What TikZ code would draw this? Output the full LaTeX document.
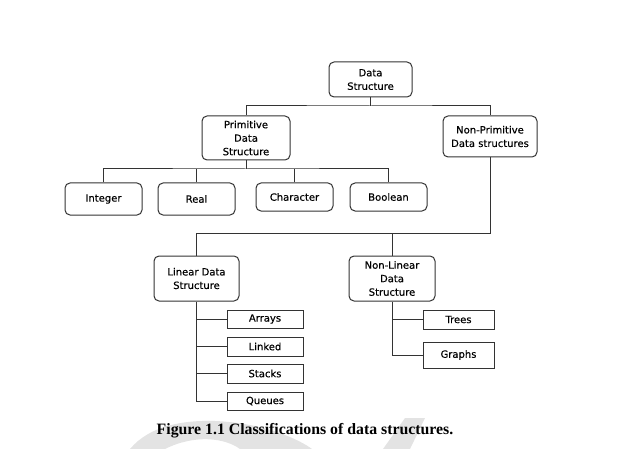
\documentclass[tikz,border=0pt]{standalone}
\usepackage{fontspec}
\setmainfont{DejaVu Sans}
\newfontface\boxfont{DejaVu Sans}[FakeBold=0.35]
\newfontfamily\capfont{Liberation Serif}
\usetikzlibrary{calc}
\definecolor{lineclr}{HTML}{333333}
\definecolor{wmark}{HTML}{E3E3E3}
\tikzset{
  box/.style={draw=lineclr, line width=1pt, fill=white, inner sep=0pt, align=center,
    font=\boxfont\fontsize{10}{13.5}\selectfont, text=black},
  rbox/.style={box, rounded corners=5pt},
  sbox/.style={box},
  conn/.style={draw=lineclr, line width=1pt},
}
\begin{document}
\begin{tikzpicture}[x=1pt,y=-1pt]
\useasboundingbox (0,0) rectangle (642,449);
% watermark
\fill[wmark] (130,449) .. controls (150,425) and (185,420) .. (215,421)
  .. controls (265,423) and (300,440) .. (312,449) -- (240,449)
  .. controls (225,438) and (195,434) .. (165,449) -- cycle;
\fill[wmark] (405,418) -- (425,418) -- (410,449) -- (383,449) -- cycle;
% nodes
\node[rbox, minimum width=83pt, minimum height=35pt] (ds) at (370.5,79.5) {Data\\Structure};
\node[rbox, minimum width=88pt, minimum height=44pt] (prim) at (246,138) {Primitive\\Data\\Structure};
\node[rbox, minimum width=94pt, minimum height=41pt] (nonprim) at (490,136.5) {Non-Primitive\\Data structures};
\node[rbox, minimum width=77pt, minimum height=32pt] (integer) at (103.5,199) {Integer};
\node[rbox, minimum width=77pt, minimum height=32pt] (real) at (196.5,199) {Real};
\node[rbox, minimum width=77pt, minimum height=28pt] (char) at (294.5,197) {Character};
\node[rbox, minimum width=77pt, minimum height=28pt] (bool) at (388.5,197) {Boolean};
\node[rbox, minimum width=85pt, minimum height=45pt] (linear) at (196.5,278.5) {Linear Data\\Structure};
\node[rbox, minimum width=86pt, minimum height=45pt] (nonlin) at (392,278.5) {Non-Linear\\Data\\Structure};
\node[sbox, minimum width=76pt, minimum height=18pt] (arrays) at (265,319) {Arrays};
\node[sbox, minimum width=76pt, minimum height=19pt] (linked) at (265,346.5) {Linked};
\node[sbox, minimum width=76pt, minimum height=19pt] (stacks) at (265,373.5) {Stacks};
\node[sbox, minimum width=76pt, minimum height=18pt] (queues) at (265,401) {Queues};
\node[sbox, minimum width=71pt, minimum height=19pt] (trees) at (458.5,319.5) {Trees};
\node[sbox, minimum width=71pt, minimum height=26pt] (graphs) at (458.5,355) {Graphs};
% bus points
\coordinate (b1) at (370.5,106);
\coordinate (b2) at (246,169);
\coordinate (b3) at (490,233);
% connectors
\draw[conn] (ds.south) -- (b1);
\draw[conn] (prim.north) |- (b1) -| (nonprim.north);
\draw[conn] (prim.south) -- (b2);
\draw[conn] (integer.north) |- (b2) -| (bool.north);
\draw[conn] (real.north) -- (real.north |- b2);
\draw[conn] (char.north) -- (char.north |- b2);
\draw[conn] (nonprim.south) -- (b3) -| (linear.north);
\draw[conn] (nonlin.north) -- (nonlin.north |- b3);
\draw[conn] (linear.south) |- (queues.west);
\draw[conn] (linear.south |- arrays.west) -- (arrays.west);
\draw[conn] (linear.south |- linked.west) -- (linked.west);
\draw[conn] (linear.south |- stacks.west) -- (stacks.west);
\draw[conn] (nonlin.south) |- (graphs.west);
\draw[conn] (nonlin.south |- trees.west) -- (trees.west);
% caption
\node[font=\capfont\bfseries\fontsize{15.8}{18}\selectfont, inner sep=0pt] (cap) at (305,431) {Figure 1.1 Classifications of data structures.};
\end{tikzpicture}
\end{document}
